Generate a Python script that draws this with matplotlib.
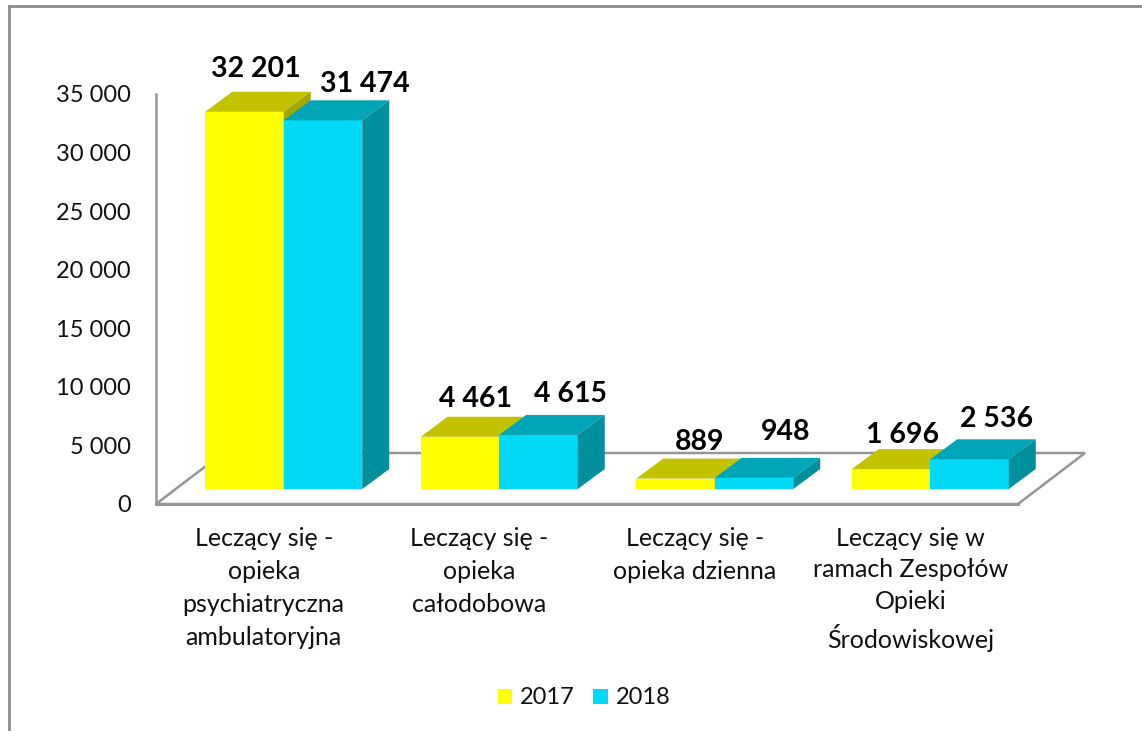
import matplotlib
matplotlib.use("Agg")
import matplotlib.pyplot as plt
from matplotlib.patches import Polygon, Patch
from matplotlib.lines import Line2D

categories = ["Leczący się -\nopieka\npsychiatryczna\nambulatoryjna",
              "Leczący się -\nopieka\ncałodobowa",
              "Leczący się -\nopieka dzienna",
              "Leczący się w\nramach Zespołów\nOpieki\nŚrodowiskowej"]
series_names = ["2017", "2018"]
values_2017 = [32201, 4461, 889, 1696]
values_2018 = [31474, 4615, 948, 2536]
labels_2017 = ["32 201", "4 461", "889", "1 696"]
labels_2018 = ["31 474", "4 615", "948", "2 536"]
y_ticks = [0, 5000, 10000, 15000, 20000, 25000, 30000, 35000]
y_ticklabels = ["0", "5 000", "10 000", "15 000", "20 000", "25 000", "30 000", "35 000"]

W, H = 1142, 731
FONT = "Lato"
plt.rcParams["font.family"] = [FONT, "DejaVu Sans"]
fig = plt.figure(figsize=(W / 100, H / 100), dpi=100, facecolor="white")

L, R, B, T = 156, 1018, 504, 94
ax = fig.add_axes([L / W, 1 - B / H, (R - L) / W, (B - T) / H])
ax.set_xlim(0, 4)
ax.set_ylim(0, 35000)
px_x = 4 / (R - L)
px_y = 35000 / (B - T)

GRAY = "#969696"
for s in ("top", "right"):
    ax.spines[s].set_visible(False)
for s in ("left", "bottom"):
    ax.spines[s].set_color(GRAY)
    ax.spines[s].set_linewidth(1.8)

# floor
fx, fy = 67 * px_x, 51 * px_y
ax.add_patch(Polygon([(0, 0), (fx, fy), (4 + fx, fy), (4, 0)], closed=True,
                     facecolor="white", edgecolor=GRAY, linewidth=1.8,
                     clip_on=False, zorder=1))
ax.plot([0, 4], [0, 0], color=GRAY, lw=1.8, zorder=1.1, clip_on=False)

# 3-D bars
bar_w = 78.5 * px_x
off_x, off_y = 20 * px_x, 15 * px_y
dx, dy = 27 * px_x, 20 * px_y


def bar3d(x0, v, front, top, side, z):
    y0, y1 = off_y, off_y + v
    x1 = x0 + bar_w
    ax.bar(x0, v, width=bar_w, bottom=y0, align="edge", color=front,
           linewidth=0, zorder=z, clip_on=False)
    ax.add_patch(Polygon([(x0, y1), (x0 + dx, y1 + dy), (x1 + dx, y1 + dy), (x1, y1)],
                         facecolor=top, edgecolor="none", zorder=z, clip_on=False))
    ax.add_patch(Polygon([(x1, y0), (x1 + dx, y0 + dy), (x1 + dx, y1 + dy), (x1, y1)],
                         facecolor=side, edgecolor="none", zorder=z, clip_on=False))


YEL = ("#FFFF00", "#C2C200", "#A6A600")
CYA = ("#00D9F7", "#00A5B8", "#008F9C")
lab_off_2017 = [(-2, 43), (2, 38), (11, 37), (-2, 34)]
lab_off_2018 = [(28, 36), (18, 41), (18, 46), (14, 40)]
for i in range(4):
    cx = i + 0.5 + off_x
    xl = cx - bar_w
    bar3d(xl, values_2017[i], *YEL, 2 + i * 0.1)
    bar3d(cx, values_2018[i], *CYA, 2.05 + i * 0.1)
    for xb, v, lab, o in ((xl, values_2017[i], labels_2017[i], lab_off_2017[i]),
                          (cx, values_2018[i], labels_2018[i], lab_off_2018[i])):
        ax.annotate(lab, (xb + bar_w / 2 + dx / 2, off_y + v),
                    xytext=(o[0] * 0.72, o[1] * 0.72), textcoords="offset points",
                    ha="center", va="center", fontsize=20.5, fontweight="bold",
                    color="black", annotation_clip=False, zorder=10)

ax.set_yticks(y_ticks, y_ticklabels, fontsize=17, color="#111111")
ax.set_xticks([0.5, 1.5, 2.5, 3.5], categories, fontsize=18, color="#111111",
              linespacing=1.52)
ax.get_xticklabels()[3].set_linespacing(1.45)
ax.tick_params(axis="y", length=0, pad=18)
ax.tick_params(axis="x", length=0, pad=16.5)
for t in ax.get_yticklabels():
    t.set_verticalalignment("center_baseline")

# outer frame
for xs, ys in (([9, 9], [H - 6, 0]), ([9, W], [H - 6, H - 6])):
    fig.add_artist(Line2D([x / W for x in xs], [y / H for y in ys],
                          color="#8C8C8C", lw=2.0, transform=fig.transFigure))

handles = [Patch(facecolor=YEL[0], edgecolor="none"), Patch(facecolor=CYA[0], edgecolor="none")]
fig.legend(handles, series_names, loc="center", bbox_to_anchor=(584 / W, 1 - 698 / H),
           ncol=2, frameon=False, fontsize=17, handlelength=0.6, handleheight=0.6,
           handletextpad=0.34, columnspacing=0.8, labelcolor="#111111")
fig.savefig("out.png", dpi=100, facecolor="white")
